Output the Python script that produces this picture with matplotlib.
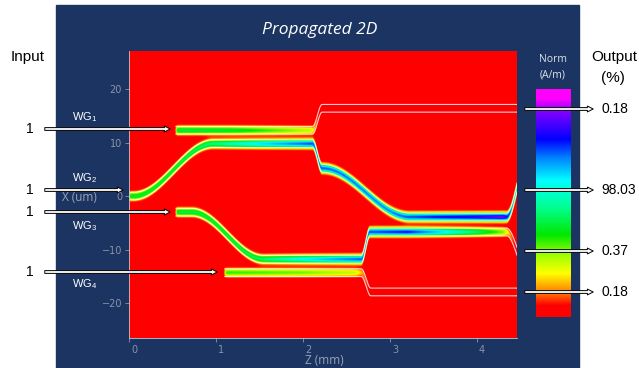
import numpy as np
import matplotlib
matplotlib.use('Agg')
import matplotlib.pyplot as plt
from matplotlib.colors import LinearSegmentedColormap
from matplotlib.patches import Rectangle, FancyArrowPatch
from matplotlib.transforms import ScaledTranslation

# waveguide centre lines: knots (z in mm, x in um), bends between knots are smooth
wg1_z = [0.54, 2.11, 2.22, 4.46]
wg1_x = [12.3, 12.3, 16.4, 16.4]
wg2_z = [0.0, 0.05, 0.97, 2.11, 2.22, 3.23, 4.34, 4.58]
wg2_x = [0.0, 0.0, 9.8, 9.8, 5.2, -3.9, -3.9, 7.0]
wg3_z = [0.54, 0.72, 1.55, 2.67, 2.77, 4.34, 4.58]
wg3_x = [-3.0, -3.0, -11.8, -11.8, -6.7, -6.7, -13.9]
wg4_z = [1.1, 2.67, 2.78, 4.46]
wg4_x = [-14.3, -14.3, -17.9, -17.9]

# field strength (normalised) along each guide
wg1_amp_z = [0.54, 1.2, 1.8, 2.1, 2.2, 4.46]
wg1_amp = [0.42, 0.40, 0.30, 0.24, 0.0, 0.0]
wg2_amp_z = [0.0, 0.5, 1.0, 1.5, 2.1, 2.3, 3.0, 3.5, 4.0, 4.3, 4.46]
wg2_amp = [0.40, 0.42, 0.48, 0.62, 0.74, 0.72, 0.70, 0.78, 0.84, 0.90, 0.60]
wg3_amp_z = [0.54, 1.0, 1.5, 2.0, 2.6, 2.8, 3.2, 3.6, 4.0, 4.3, 4.46]
wg3_amp = [0.42, 0.42, 0.45, 0.60, 0.72, 0.74, 0.78, 0.62, 0.45, 0.30, 0.0]
wg4_amp_z = [1.1, 2.0, 2.6, 2.8, 4.46]
wg4_amp = [0.34, 0.30, 0.24, 0.0, 0.0]

input_power = [1, 1, 1, 1]
input_y = [129, 190, 212, 272]
input_end = [173, 126, 173, 220]
wg_names = ['1', '2', '3', '4']
wg_name_y = [117, 178, 226, 284]
output_pct = [0.18, 98.03, 0.37, 0.18]
output_y = [109, 190, 251, 292]

z_lim = (0, 4.46)
x_lim = (-26.5, 27.1)

cmap = LinearSegmentedColormap.from_list('norm', [
    (0.0, '#ff0000'), (0.05, '#ff0000'), (0.10, '#ff7000'), (0.19, '#ffff00'),
    (0.27, '#a0ff00'), (0.36, '#00e800'), (0.48, '#00ff90'), (0.60, '#00ffff'),
    (0.70, '#0080ff'), (0.78, '#0000ff'), (0.90, '#8000ff'), (0.96, '#ff00ff'),
    (1.0, '#ff00ff')])


def centre(zk, xk, z):
    xc = np.full(z.shape, float(xk[0]))
    for i in range(len(zk) - 1):
        m = (z >= zk[i]) & (z <= zk[i + 1])
        t = (z[m] - zk[i]) / (zk[i + 1] - zk[i])
        xc[m] = xk[i] + (xk[i + 1] - xk[i]) * (1 - np.cos(np.pi * t)) / 2
    xc[z > zk[-1]] = xk[-1]
    return xc


guides = [(wg1_z, wg1_x, wg1_amp_z, wg1_amp), (wg2_z, wg2_x, wg2_amp_z, wg2_amp),
          (wg3_z, wg3_x, wg3_amp_z, wg3_amp), (wg4_z, wg4_x, wg4_amp_z, wg4_amp)]

zz = np.linspace(z_lim[0], z_lim[1], 900)
xx = np.linspace(x_lim[0], x_lim[1], 600)
Z, X = np.meshgrid(zz, xx)
field = np.zeros_like(Z)
for gz, gx, az, av in guides:
    xc = centre(gz, gx, zz)
    a = np.interp(zz, az, av) / (1 + np.exp(-(zz - gz[0]) / 0.006))
    field += a[None, :] * np.exp(-((X - xc[None, :]) / 0.8) ** 2)

W, H = 639, 368
fig = plt.figure(figsize=(6.39, 3.68), dpi=100)
fig.patch.set_facecolor('white')
fig.add_artist(Rectangle((56 / W, 0), 523 / W, 363 / H, transform=fig.transFigure,
                         color='#1c3461', zorder=0))

ax = fig.add_axes([129 / W, 30 / H, 388 / W, 287 / H])
ax.imshow(field, extent=[z_lim[0], z_lim[1], x_lim[0], x_lim[1]], origin='lower',
          aspect='auto', cmap=cmap, vmin=0, vmax=1, interpolation='bilinear')
# waveguide outlines
for gz, gx, az, av in guides:
    zs = np.linspace(gz[0], z_lim[1], 600)
    xc = centre(gz, gx, zs)
    ax.plot(zs, xc + 0.72, color='white', lw=0.8, alpha=0.8)
    ax.plot(zs, xc - 0.72, color='white', lw=0.8, alpha=0.8)
    ax.plot([z_lim[1] - 0.005] * 2, [xc[-1] - 0.72, xc[-1] + 0.72], color='white', lw=0.8, alpha=0.8)
ax.set_xlim(z_lim)
ax.set_ylim(x_lim)
ax.set_xticks([0, 1, 2, 3, 4])
ax.set_yticks([-20, -10, 0, 10, 20])
ax.tick_params(colors='#8a93a8', labelsize=7, length=3, width=0.6, pad=2)
for lab in ax.get_xticklabels():
    lab.set_ha('left')
    lab.set_transform(lab.get_transform() + ScaledTranslation(0.02, 0, fig.dpi_scale_trans))
for s in ['top', 'right']:
    ax.spines[s].set_visible(False)
for s in ['left', 'bottom']:
    ax.spines[s].set_color('#c0c6d2')
    ax.spines[s].set_linewidth(0.6)

cax = fig.add_axes([536 / W, 51 / H, 35 / W, 228 / H])
cax.imshow(np.linspace(0, 1, 256)[:, None], aspect='auto', cmap=cmap, origin='lower')
cax.axis('off')


def fx(px):
    return px / W


def fy(py):
    return 1 - py / H


arrow = 'simple,head_length=0.42,head_width=0.42,tail_width=0.2'

fig.text(fx(320), fy(30), 'Propagated 2D', color='white', fontsize=12.5, style='italic',
         family='Open Sans', ha='center', va='center')
fig.text(fx(324), fy(361), 'Z (mm)', color='#9aa3b5', fontsize=8.5, family='Open Sans',
         ha='center', va='center')
fig.text(fx(79), fy(198), 'X (um)', color='#9aa3b5', fontsize=8.5, family='Open Sans',
         ha='center', va='center')
fig.text(fx(553), fy(60), 'Norm', color='#dde2ea', fontsize=7.5, family='Open Sans',
         ha='center', va='center')
fig.text(fx(553), fy(75), '(A/m)', color='#dde2ea', fontsize=7.5, family='Open Sans',
         ha='center', va='center')

fig.text(fx(28), fy(57), 'Input', fontsize=11, family='Liberation Sans', ha='center', va='center')
fig.text(fx(614), fy(57), 'Output', fontsize=11, family='Liberation Sans', ha='center', va='center')
fig.text(fx(613), fy(78), '(%)', fontsize=11, family='Liberation Sans', ha='center', va='center')

# input arrows and WG labels
for p, y, xe, name, ny in zip(input_power, input_y, input_end, wg_names, wg_name_y):
    fig.text(fx(30), fy(y), str(p), fontsize=10, family='Liberation Sans', ha='center', va='center')
    fig.add_artist(FancyArrowPatch((fx(42), fy(y)), (fx(xe), fy(y)), transform=fig.transFigure,
                                   arrowstyle=arrow, mutation_scale=10, fc='white', ec='black', lw=0.7))
    fig.text(fx(85), fy(ny), r'$\mathregular{WG_' + name + '}$', color='white',
             fontsize=8, family='Liberation Sans', ha='center', va='center')

# output arrows
for v, y in zip(output_pct, output_y):
    fig.add_artist(FancyArrowPatch((fx(522), fy(y)), (fx(596), fy(y)), transform=fig.transFigure,
                                   arrowstyle=arrow, mutation_scale=10, fc='white', ec='black', lw=0.7))
    fig.text(fx(601), fy(y), '%.2f' % v, fontsize=10, family='Liberation Sans', ha='left', va='center')

plt.savefig('out.png', dpi=100)
